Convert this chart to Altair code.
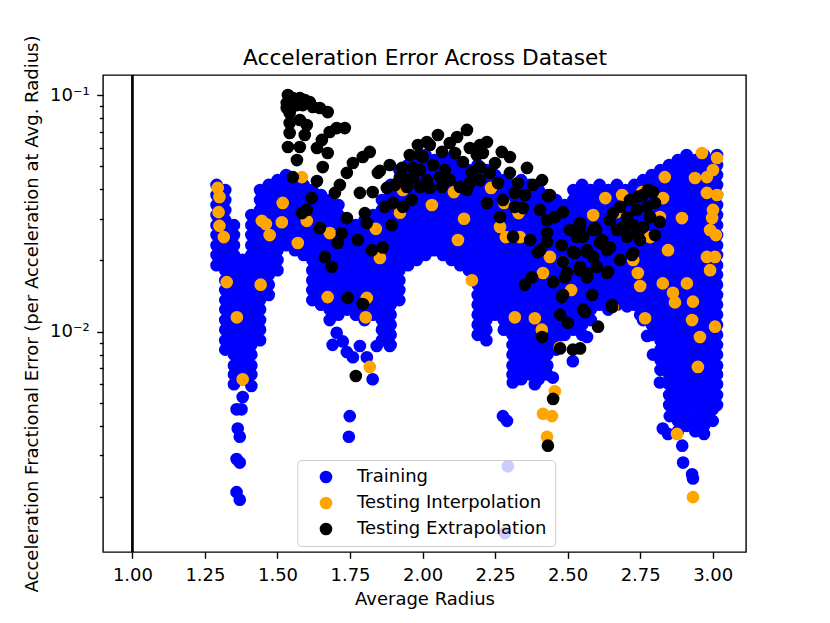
import altair as alt
import pandas as pd

# ---------------- data ----------------
# Training points: dense mass read column by column (x = average radius,
# values = fractional error of each visible marker in that column)
train_col_x = [1.29, 1.32, 1.35, 1.38, 1.41, 1.44, 1.47, 1.50, 1.53, 1.56,
               1.59, 1.62, 1.65, 1.68, 1.71, 1.74, 1.77, 1.80, 1.83, 1.86,
               1.89, 1.92, 1.95, 1.98, 2.01, 2.04, 2.07, 2.10, 2.13, 2.16,
               2.19, 2.22, 2.25, 2.28, 2.31, 2.34, 2.37, 2.40, 2.43, 2.46,
               2.49, 2.52, 2.55, 2.58, 2.61, 2.64, 2.67, 2.70, 2.73, 2.76,
               2.79, 2.82, 2.85, 2.88, 2.91, 2.94, 2.97, 3.00, 3.015]
train_col_y = [
    [.0417, .0378, .0343, .0311, .0282, .0256, .0232, .0211, .0191],
    [.0397, .0360, .0327, .0296, .0269, .0244, .0221, .0201, .0182, .0165, .0150, .0136, .0124, .0112, .0102, .0092, .0084],
    [.0282, .0256, .0232, .0211, .0191, .0174, .0158, .0143, .0130, .0118, .0107, .0097, .0088, .0080, .0072, .0066, .0060],
    [.0201, .0182, .0165, .0150, .0136, .0124, .0112, .0102, .0092, .0084, .0076, .0069, .0063],
    [.0311, .0282, .0256, .0232, .0211, .0191, .0174, .0158, .0143, .0130, .0118, .0107, .0097, .0088, .0080, .0072, .0066],
    [.0397, .0360, .0327, .0296, .0269, .0244, .0221, .0201, .0182, .0165, .0150, .0136, .0124, .0112, .0102, .0092],
    [.0417, .0378, .0343, .0311, .0282, .0256, .0232, .0211, .0191, .0174, .0158, .0143],
    [.0437, .0397, .0360, .0327, .0296, .0269, .0244, .0221, .0201, .0182],
    [.0459, .0417, .0378, .0343, .0311, .0282, .0256, .0232],
    [.0437, .0397, .0360, .0327, .0296, .0269, .0244, .0221],
    [.0417, .0378, .0343, .0311, .0282, .0256, .0232, .0211],
    [.0397, .0360, .0327, .0296, .0269, .0244, .0221, .0201, .0182, .0165, .0150, .0136],
    [.0378, .0343, .0311, .0282, .0256, .0232, .0211, .0191, .0174, .0158, .0143, .0130],
    [.0360, .0327, .0296, .0269, .0244, .0221, .0201, .0182, .0165, .0150, .0136, .0124, .0112],
    [.0343, .0311, .0282, .0256, .0232, .0211, .0191, .0174, .0158, .0143, .0130, .0118],
    [.0296, .0269, .0244, .0221, .0201, .0182, .0165, .0150, .0136, .0124],
    [.0282, .0256, .0232, .0211, .0191, .0174, .0158, .0143, .0130, .0118],
    [.0296, .0269, .0244, .0221, .0201, .0182, .0165, .0150, .0136, .0124, .0112],
    [.0311, .0282, .0256, .0232, .0211, .0191, .0174, .0158, .0143, .0130, .0118],
    [.0360, .0327, .0296, .0269, .0244, .0221, .0201, .0182, .0165, .0150, .0136, .0124, .0112, .0102, .0092],
    [.0417, .0378, .0343, .0311, .0282, .0256, .0232, .0211, .0191, .0174, .0158, .0143, .0130, .0118, .0107, .0097, .0088],
    [.0482, .0437, .0397, .0360, .0327, .0296, .0269, .0244, .0221, .0201, .0182, .0165, .0150, .0136],
    [.0506, .0459, .0417, .0378, .0343, .0311, .0282, .0256, .0232, .0211, .0191],
    [.0531, .0482, .0437, .0397, .0360, .0327, .0296, .0269, .0244, .0221, .0201],
    [.0558, .0506, .0459, .0417, .0378, .0343, .0311, .0282, .0256, .0232, .0211],
    [.0531, .0482, .0437, .0397, .0360, .0327, .0296, .0269, .0244, .0221],
    [.0558, .0506, .0459, .0417, .0378, .0343, .0311, .0282, .0256, .0232, .0211],
    [.0531, .0482, .0437, .0397, .0360, .0327, .0296, .0269, .0244, .0221, .0201],
    [.0506, .0459, .0417, .0378, .0343, .0311, .0282, .0256, .0232, .0211, .0191],
    [.0482, .0437, .0397, .0360, .0327, .0296, .0269, .0244, .0221, .0201, .0182],
    [.0506, .0459, .0417, .0378, .0343, .0311, .0282, .0256, .0232, .0211, .0191, .0174, .0158, .0143, .0130, .0118, .0107, .0097],
    [.0482, .0437, .0397, .0360, .0327, .0296, .0269, .0244, .0221, .0201, .0182, .0165, .0150, .0136, .0124, .0112, .0102, .0092],
    [.0459, .0417, .0378, .0343, .0311, .0282, .0256, .0232, .0211, .0191, .0174, .0158, .0143, .0130, .0118],
    [.0437, .0397, .0360, .0327, .0296, .0269, .0244, .0221, .0201, .0182, .0165, .0150, .0136, .0124, .0112, .0102],
    [.0417, .0378, .0343, .0311, .0282, .0256, .0232, .0211, .0191, .0174, .0158, .0143, .0130, .0118, .0107, .0097, .0088, .0080, .0072, .0066],
    [.0437, .0397, .0360, .0327, .0296, .0269, .0244, .0221, .0201, .0182, .0165, .0150, .0136, .0124, .0112, .0102, .0092, .0084, .0076, .0069, .0063],
    [.0417, .0378, .0343, .0311, .0282, .0256, .0232, .0211, .0191, .0174, .0158, .0143, .0130, .0118, .0107, .0097, .0088, .0080, .0072, .0066],
    [.0397, .0360, .0327, .0296, .0269, .0244, .0221, .0201, .0182, .0165, .0150, .0136, .0124, .0112, .0102, .0092, .0084, .0076, .0069, .0063],
    [.0378, .0343, .0311, .0282, .0256, .0232, .0211, .0191, .0174, .0158, .0143, .0130, .0118, .0107, .0097, .0088, .0080, .0072, .0066],
    [.0360, .0327, .0296, .0269, .0244, .0221, .0201, .0182, .0165, .0150, .0136, .0124, .0112, .0102, .0092, .0084],
    [.0343, .0311, .0282, .0256, .0232, .0211, .0191, .0174, .0158, .0143, .0130, .0118, .0107, .0097],
    [.0397, .0360, .0327, .0296, .0269, .0244, .0221, .0201, .0182, .0165, .0150, .0136, .0124, .0112, .0102],
    [.0417, .0378, .0343, .0311, .0282, .0256, .0232, .0211, .0191, .0174, .0158, .0143, .0130, .0118, .0107, .0097],
    [.0397, .0360, .0327, .0296, .0269, .0244, .0221, .0201, .0182, .0165, .0150, .0136, .0124, .0112],
    [.0417, .0378, .0343, .0311, .0282, .0256, .0232, .0211, .0191, .0174, .0158, .0143, .0130],
    [.0397, .0360, .0327, .0296, .0269, .0244, .0221, .0201, .0182, .0165, .0150, .0136, .0124],
    [.0417, .0378, .0343, .0311, .0282, .0256, .0232, .0211, .0191, .0174, .0158, .0143, .0130],
    [.0397, .0360, .0327, .0296, .0269, .0244, .0221, .0201, .0182, .0165, .0150, .0136],
    [.0417, .0378, .0343, .0311, .0282, .0256, .0232, .0211, .0191, .0174, .0158, .0143, .0130],
    [.0437, .0397, .0360, .0327, .0296, .0269, .0244, .0221, .0201, .0182, .0165, .0150, .0136, .0124, .0112],
    [.0459, .0417, .0378, .0343, .0311, .0282, .0256, .0232, .0211, .0191, .0174, .0158, .0143, .0130, .0118, .0107, .0097],
    [.0482, .0437, .0397, .0360, .0327, .0296, .0269, .0244, .0221, .0201, .0182, .0165, .0150, .0136, .0124, .0112, .0102, .0092, .0084, .0076, .0069],
    [.0506, .0459, .0417, .0378, .0343, .0311, .0282, .0256, .0232, .0211, .0191, .0174, .0158, .0143, .0130, .0118, .0107, .0097, .0088, .0080, .0072, .0066, .0060, .0054, .0049],
    [.0531, .0482, .0437, .0397, .0360, .0327, .0296, .0269, .0244, .0221, .0201, .0182, .0165, .0150, .0136, .0124, .0112, .0102, .0092, .0084, .0076, .0069, .0063, .0057, .0051, .0047, .0042, .0038],
    [.0558, .0506, .0459, .0417, .0378, .0343, .0311, .0282, .0256, .0232, .0211, .0191, .0174, .0158, .0143, .0130, .0118, .0107, .0097, .0088, .0080, .0072, .0066, .0060, .0054, .0049, .0044, .0040],
    [.0531, .0482, .0437, .0397, .0360, .0327, .0296, .0269, .0244, .0221, .0201, .0182, .0165, .0150, .0136, .0124, .0112, .0102, .0092, .0084, .0076, .0069, .0063, .0057, .0051, .0047, .0042, .0038],
    [.0558, .0506, .0459, .0417, .0378, .0343, .0311, .0282, .0256, .0232, .0211, .0191, .0174, .0158, .0143, .0130, .0118, .0107, .0097, .0088, .0080, .0072, .0066, .0060, .0054, .0049, .0044, .0040, .0037],
    [.0531, .0482, .0437, .0397, .0360, .0327, .0296, .0269, .0244, .0221, .0201, .0182, .0165, .0150, .0136, .0124, .0112, .0102, .0092, .0084, .0076, .0069, .0063, .0057, .0051, .0047, .0042],
    [.0558, .0506, .0459, .0417, .0378, .0343, .0311, .0282, .0256, .0232, .0211, .0191, .0174, .0158, .0143, .0130, .0118, .0107, .0097, .0088, .0080, .0072, .0066, .0060, .0054, .0049],
]
# isolated training points (tails of the valleys)
train_extra = [
    (1.359, .0047), (1.376, .0047), (1.363, .0039), (1.370, .0036), (1.359, .0029),
    (1.370, .0028), (1.359, .0021), (1.370, .00195), (1.380, .0053), (1.410, .0059),
    (1.636, .0155), (1.704, .0099), (1.725, .0091), (1.690, .0088), (1.739, .0082),
    (1.760, .0078), (1.784, .0087), (1.808, .0078), (1.828, .0063), (1.842, .0087),
    (1.877, .0095), (1.887, .0087), (1.749, .0044), (1.746, .0036),
    (2.277, .0044), (2.291, .0042), (2.294, .0027), (2.284, .00141), (2.311, .0061),
    (2.387, .0060), (2.449, .0064), (2.518, .0075), (2.567, .0095), (2.705, .0128),
    (2.750, .0118), (2.774, .0096), (2.794, .0080), (2.818, .0061), (2.852, .0044),
    (2.828, .0039), (2.846, .0037), (2.895, .0033), (2.898, .0028), (2.929, .0025),
    (2.932, .0024),
]
# Testing Interpolation (orange)
interp_pts = [
    (1.294, .0405), (1.300, .0371), (1.297, .0320), (1.300, .0280), (1.315, .0251),
    (1.325, .0162), (1.360, .0115), (1.380, .0063), (1.442, .0158),
    (1.584, .0450), (1.518, .0350), (1.446, .0294), (1.460, .0285), (1.515, .0290),
    (1.473, .0256), (1.570, .0237), (1.601, .0294), (1.680, .0261),
    (1.839, .0272), (1.853, .0205), (1.673, .0140), (1.808, .0139), (1.804, .0115),
    (1.818, .0071), (1.922, .0318), (1.932, .0397), (2.032, .0343),
    (2.108, .0389), (2.143, .0300), (2.122, .0244), (2.170, .0165), (2.236, .0405),
    (2.281, .0350), (2.331, .0317), (2.267, .0277), (2.287, .0251), (2.336, .0251),
    (2.439, .0207), (2.484, .0197), (2.415, .0177), (2.512, .0150), (2.318, .0115),
    (2.387, .0114), (2.411, .0102), (2.473, .0086), (2.456, .0056), (2.415, .0045),
    (2.446, .0044), (2.429, .0036),
    (2.588, .0311), (2.630, .0367), (2.688, .0378), (2.670, .0320), (2.757, .0389),
    (2.829, .0367), (2.818, .0305), (2.894, .0302), (2.835, .0450), (2.963, .0569),
    (3.015, .0542), (2.939, .0446), (2.980, .0450), (3.001, .0482), (2.980, .0386),
    (3.015, .0378), (3.001, .0327), (2.998, .0302), (2.991, .0269), (3.011, .0256),
    (2.742, .0177), (2.750, .0156), (2.846, .0221), (2.828, .0160), (2.863, .0146),
    (2.911, .0160), (2.932, .0134), (2.767, .0114), (2.980, .0207), (3.008, .0207),
    (2.991, .0182), (2.726, .0201), (2.656, .0127), (2.929, .0112), (3.008, .0105),
    (2.956, .0095), (2.949, .0071), (2.870, .0133), (2.877, .0037), (2.932, .0020),
    (2.784, .0251),
]
# Testing Extrapolation (black)
extrap_pts = [
    (1.536, .1000), (1.542, .0934), (1.532, .0925), (1.553, .0971), (1.577, .0971),
    (1.594, .0953), (1.611, .0934), (1.532, .0881), (1.549, .0890), (1.567, .0907),
    (1.587, .0907), (1.622, .0890), (1.646, .0881), (1.673, .0847), (1.542, .0839),
    (1.542, .0762), (1.577, .0784), (1.601, .0747), (1.542, .0691), (1.594, .0678),
    (1.536, .0603), (1.577, .0603), (1.567, .0531), (1.636, .0597), (1.653, .0646),
    (1.680, .0698), (1.704, .0725), (1.732, .0725), (1.673, .0569), (1.656, .0496),
    (1.739, .0469), (1.760, .0516), (1.794, .0547), (1.818, .0575), (1.553, .0450),
    (1.636, .0433), (1.715, .0417), (1.698, .0386), (1.618, .0367), (1.784, .0386),
    (1.828, .0389), (1.846, .0469), (1.887, .0506), (1.929, .0492), (1.967, .0492),
    (1.991, .0558), (1.956, .0558), (1.984, .0615), (2.015, .0633), (1.877, .0405),
    (1.905, .0417), (1.932, .0450), (1.963, .0360), (1.898, .0350), (1.932, .0337),
    (1.870, .0337), (1.801, .0317), (1.808, .0288), (1.739, .0302), (1.584, .0317),
    (1.601, .0327), (1.646, .0274), (1.722, .0261), (1.708, .0237), (1.777, .0244),
    (1.825, .0221), (1.863, .0227), (1.663, .0207), (1.687, .0188), (1.742, .0139),
    (1.794, .0131), (1.894, .0282), (1.770, .0065),
    (2.153, .0712), (2.119, .0665), (2.053, .0678), (2.094, .0627), (2.025, .0615),
    (2.001, .0547), (2.067, .0575), (2.112, .0569), (2.163, .0597), (2.198, .0615),
    (2.222, .0633), (2.139, .0521), (2.187, .0558), (2.208, .0569), (2.273, .0575),
    (2.301, .0547), (2.250, .0516), (2.198, .0496), (2.170, .0473), (2.077, .0482),
    (2.036, .0506), (1.991, .0482), (1.853, .0478), (1.922, .0450), (1.967, .0446),
    (2.015, .0437), (2.060, .0450), (2.094, .0437), (2.129, .0409), (2.163, .0425),
    (2.198, .0437), (2.232, .0469), (2.260, .0425), (2.301, .0469), (2.329, .0425),
    (2.360, .0492), (2.381, .0417), (2.412, .0437), (2.318, .0386), (2.353, .0378),
    (1.946, .0409), (1.991, .0409), (2.025, .0405), (2.067, .0409), (2.153, .0397),
    (2.222, .0350), (2.277, .0360), (2.318, .0337), (2.346, .0333), (2.405, .0327),
    (2.439, .0378), (2.429, .0296), (2.456, .0305), (2.484, .0320), (2.508, .0269),
    (2.267, .0305), (2.312, .0252), (2.371, .0244), (2.405, .0221), (2.429, .0261),
    (2.480, .0232), (2.518, .0217), (2.532, .0252), (2.491, .0170), (2.450, .0162),
    (2.480, .0140), (2.377, .0170), (2.353, .0158), (2.474, .0118), (2.501, .0109),
    (2.412, .0095), (2.518, .0084),
    (2.432, .0374), (2.543, .0288), (2.429, .0239), (2.398, .0217), (2.553, .0252),
    (2.588, .0269), (2.612, .0237), (2.636, .0221), (2.567, .0217), (2.588, .0207),
    (2.484, .0197), (2.498, .0177), (2.543, .0182), (2.567, .0170), (2.681, .0201),
    (2.726, .0215), (2.640, .0179), (2.585, .0143), (2.553, .0124), (2.653, .0127),
    (2.543, .0277), (2.598, .0269), (2.619, .0244), (2.646, .0296), (2.681, .0337),
    (2.715, .0360), (2.760, .0378), (2.794, .0389), (2.801, .0350), (2.784, .0305),
    (2.760, .0277), (2.739, .0261), (2.705, .0252), (2.670, .0269), (2.656, .0317),
    (2.705, .0305), (2.739, .0327), (2.774, .0337), (2.726, .0282), (2.691, .0277),
    (2.646, .0227), (2.722, .0211), (2.636, .0177), (2.601, .0188), (2.567, .0177),
    (2.543, .0188), (2.484, .0143), (2.653, .0130), (2.560, .0121), (2.605, .0105),
    (2.474, .0085), (2.525, .0215), (2.567, .0221), (2.595, .0274), (2.749, .0244),
    (2.801, .0256), (2.818, .0291), (2.777, .0397), (2.743, .0372),
    (2.543, .0085), (2.450, .0052), (2.432, .0033),
]

series_names = ["Training", "Testing Interpolation", "Testing Extrapolation"]
series_colors = ["#0000ff", "#ffa500", "#000000"]
x_tick_values = [1.0, 1.25, 1.5, 1.75, 2.0, 2.25, 2.5, 2.75, 3.0]
y_tick_values = [0.002, 0.003, 0.004, 0.005, 0.006, 0.007, 0.008, 0.009, 0.01,
                 0.02, 0.03, 0.04, 0.05, 0.06, 0.07, 0.08, 0.09, 0.1]
vline_at = 1.0
chart_title = "Acceleration Error Across Dataset"

# ---------------- build table ----------------
rows = []
for cx, ys in zip(train_col_x, train_col_y):
    for v in ys:
        rows.append((cx, v, series_names[0]))
for cx, v in train_extra:
    rows.append((cx, v, series_names[0]))
for cx, v in interp_pts:
    rows.append((cx, v, series_names[1]))
for cx, v in extrap_pts:
    rows.append((cx, v, series_names[2]))
df = pd.DataFrame(rows, columns=["radius", "err", "set"])
df["ord"] = range(len(df))

FONT = "DejaVu Sans"
x_scale = alt.Scale(domain=[0.8986, 3.1148], nice=False, zero=False)
y_scale = alt.Scale(type="log", domain=[0.001173, 0.1215], nice=False)

major_test = "abs(datum.value - 0.1) < 1e-9 || abs(datum.value - 0.01) < 1e-9"

points = alt.Chart(df).mark_circle(size=160, opacity=1, strokeWidth=0).encode(
    x=alt.X("radius:Q", scale=x_scale, title="Average Radius",
            axis=alt.Axis(orient="bottom", values=x_tick_values, format=".2f",
                          labelFlush=False, labelOverlap=False, tickSize=6.3,
                          tickWidth=1.4, labelPadding=8.5, titlePadding=6)),
    y=alt.Y("err:Q", scale=y_scale,
            title="Acceleration Fractional Error (per Acceleration at Avg. Radius)",
            axis=alt.Axis(values=y_tick_values, labelOverlap=False,
                          labelExpr="abs(datum.value - 0.1) < 1e-9 ? '10⁻¹' : (abs(datum.value - 0.01) < 1e-9 ? '10⁻²' : '')",
                          tickSize={"condition": {"test": major_test, "value": 6.3}, "value": 3.6},
                          tickWidth=1.4, labelPadding=7.5, titlePadding=8)),
    color=alt.Color("set:N",
                    scale=alt.Scale(domain=series_names, range=series_colors),
                    legend=alt.Legend(orient="none", legendX=194.3, legendY=385,
                                      title=None, fillColor="rgba(255,255,255,0.8)",
                                      strokeColor="#cccccc", cornerRadius=4,
                                      padding=8, symbolType="circle", symbolSize=160,
                                      symbolStrokeWidth=0, symbolOpacity=1,
                                      symbolOffset=11.7, labelOffset=22,
                                      labelFontSize=18, labelFont=FONT,
                                      labelColor="black", rowPadding=8,
                                      labelLimit=0)),
    order=alt.Order("ord:Q"),
)

# vertical reference line; its (label-less) top axis carries the chart title
vline = alt.Chart(pd.DataFrame({"v": [vline_at]})).mark_rule(
    color="black", strokeWidth=2.7).encode(
    x=alt.X("v:Q", scale=x_scale, title=chart_title,
            axis=alt.Axis(orient="top", labels=False, ticks=False, domain=False,
                          grid=False, titleFontSize=21.7, titlePadding=11,
                          titleBaseline="alphabetic")))

chart = alt.layer(points, vline).resolve_axis(x="independent").properties(
    width=643, height=477,
    padding={"left": 95, "top": 67, "right": 76, "bottom": 63},
    autosize=alt.AutoSizeParams(type="none"),
).configure_view(stroke="black", strokeWidth=1.4).configure_axis(
    domain=False, grid=False, labelFont=FONT, labelFontSize=18, labelColor="black",
    tickColor="black", titleFont=FONT, titleFontSize=18, titleFontWeight="normal",
    titleColor="black",
)

chart.save("out.html", embed_options={"renderer": "svg", "actions": False})
